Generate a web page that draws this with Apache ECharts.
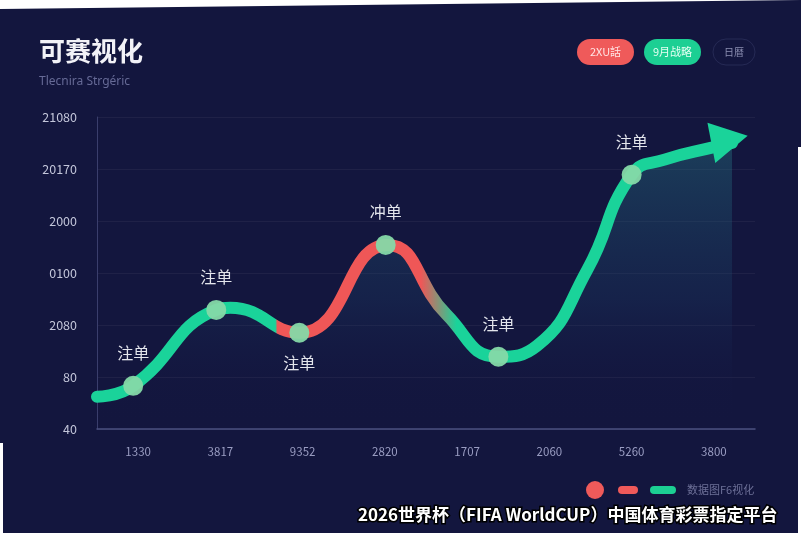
<!DOCTYPE html>
<html>
<head>
<meta charset="utf-8">
<script src="https://cdn.jsdelivr.net/npm/echarts@6/dist/echarts.min.js"></script>
<style>
html,body{margin:0;padding:0;background:#13163e;}
#chart{width:801px;height:536px;}
</style>
</head>
<body>
<div id="chart"></div>
<script>
// ---- data ----
const categories = ['1330', '3817', '9352', '2820', '1707', '2060', '5260', '3800'];
const yTickLabels = ['40', '80', '2080', '0100', '2000', '20170', '21080'];

// curve (x in category units, y in tick units)
const curveX = [-0.5, -0.06, 0.95, 1.12, 1.96, 3.03, 3.75, 4.38, 4.85, 5.46, 6.0, 6.4, 7.0, 7.22];
const curveY = [0.62, 0.83, 2.29, 2.33, 1.85, 3.54, 2.2, 1.39, 1.6, 3.06, 4.89, 5.18, 5.42, 5.5];

// highlighted points
const markerX = [-0.06, 0.95, 1.96, 3.01, 4.38, 6.00];
const markerY = [0.83, 2.29, 1.85, 3.54, 1.39, 4.89];
const markerLabels = ['注单', '注单', '注单', '冲单', '注单', '注单'];
const markerLabelSide = ['top', 'top', 'bottom', 'top', 'top', 'top'];

// arrow head at the end of the curve
const arrowX = [7.19];
const arrowY = [5.57];

const titleText = '可赛视化';
const subtitleText = 'Tlecnira Strgéric';
const pillTexts = ['2XU話', '9月战略', '日暦'];
const legendText = '数据图F6视化';
const footerText = '2026世界杯（FIFA WorldCUP）中国体育彩票指定平台';

// ---- chart ----
const GREEN = '#1ad39a';
const RED = '#ef5757';
const chart = echarts.init(document.getElementById('chart'), null, {renderer: 'canvas'});

const curveData = curveX.map((x, i) => [x, curveY[i]]);
const markerData = markerX.map((x, i) => ({
  value: [x, markerY[i]],
  name: markerLabels[i],
  label: {position: markerLabelSide[i], distance: markerLabelSide[i] === 'top' ? 15 : 12}
}));
const arrowData = arrowX.map((x, i) => [x, arrowY[i]]);

const option = {
  backgroundColor: '#13163e',
  animation: false,
  textStyle: {fontFamily: '"Noto Sans CJK SC", "Noto Sans", sans-serif'},
  grid: {left: 97, right: 46, top: 117, bottom: 107},
  xAxis: [
    {
      type: 'category',
      data: categories,
      boundaryGap: true,
      axisLine: {lineStyle: {color: '#4b5080', width: 1.5}},
      axisTick: {show: false},
      axisLabel: {color: '#9a9dc2', fontSize: 11.5, margin: 17},
      splitLine: {show: false}
    },
    {
      type: 'value',
      min: -0.5,
      max: 7.5,
      show: false
    }
  ],
  yAxis: {
    type: 'value',
    min: 0,
    max: 6,
    interval: 1,
    axisLine: {show: true, onZero: false, lineStyle: {color: '#3a3e6c', width: 1}},
    axisTick: {show: false},
    axisLabel: {
      color: '#c3c6da',
      fontSize: 12.5,
      margin: 20,
      formatter: v => yTickLabels[v] || ''
    },
    splitLine: {lineStyle: {color: 'rgba(255,255,255,0.05)'}}
  },
  series: [
    {
      type: 'line',
      xAxisIndex: 1,
      data: curveData,
      smooth: 0.5,
      showSymbol: false,
      z: 2,
      lineStyle: {
        width: 12,
        cap: 'round',
        color: new echarts.graphic.LinearGradient(0, 0, 1, 0, [
          {offset: 0, color: GREEN},
          {offset: 0.285, color: GREEN},
          {offset: 0.288, color: RED},
          {offset: 0.51, color: RED},
          {offset: 0.565, color: GREEN},
          {offset: 1, color: GREEN}
        ])
      },
      areaStyle: {
        color: new echarts.graphic.LinearGradient(0, 0, 0, 1, [
          {offset: 0, color: 'rgba(40,125,135,0.55)'},
          {offset: 0.55, color: 'rgba(30,70,110,0.35)'},
          {offset: 0.85, color: 'rgba(25,35,85,0.05)'},
          {offset: 1, color: 'rgba(20,25,70,0)'}
        ])
      }
    },
    {
      type: 'scatter',
      xAxisIndex: 1,
      data: markerData,
      symbol: 'circle',
      symbolSize: 20,
      z: 4,
      itemStyle: {color: '#85d9a8', opacity: 0.95},
      label: {
        show: true,
        formatter: p => p.name,
        color: '#eef0f6',
        fontSize: 16,
        fontFamily: '"Noto Sans CJK SC", sans-serif'
      }
    },
    {
      type: 'scatter',
      xAxisIndex: 1,
      data: arrowData,
      symbol: 'triangle',
      symbolSize: [41, 37],
      symbolRotate: -79,
      z: 3,
      itemStyle: {color: GREEN, opacity: 1}
    }
  ],
  graphic: [
    {type: 'text', left: 39, top: 38, style: {text: titleText, fill: '#f2f2f7', font: 'bold 26px "Noto Sans CJK SC", sans-serif'}},
    {type: 'text', left: 39, top: 76, style: {text: subtitleText, fill: '#666a96', font: '12px "Noto Sans", sans-serif'}},
    // pills
    {type: 'rect', shape: {x: 577, y: 39, width: 57, height: 26, r: 13}, style: {fill: '#ef5a5a'}},
    {type: 'text', x: 605.5, y: 52, style: {text: pillTexts[0], fill: '#ffe5e5', font: '11px "Noto Sans CJK SC", sans-serif', align: 'center', verticalAlign: 'middle'}},
    {type: 'rect', shape: {x: 644, y: 39, width: 57, height: 26, r: 13}, style: {fill: '#1ccf93'}},
    {type: 'text', x: 672.5, y: 52, style: {text: pillTexts[1], fill: '#e5fff3', font: '11px "Noto Sans CJK SC", sans-serif', align: 'center', verticalAlign: 'middle'}},
    {type: 'rect', shape: {x: 713, y: 39, width: 42, height: 26, r: 13}, style: {fill: '#13163e', stroke: '#262a55', lineWidth: 1}},
    {type: 'text', x: 734, y: 52, style: {text: pillTexts[2], fill: '#8c8fb2', font: '10px "Noto Sans CJK SC", sans-serif', align: 'center', verticalAlign: 'middle'}},
    // legend
    {type: 'circle', shape: {cx: 595, cy: 490, r: 9}, style: {fill: '#ef5a5a'}},
    {type: 'rect', shape: {x: 618, y: 486, width: 20, height: 8, r: 4}, style: {fill: '#ef5a5a'}},
    {type: 'rect', shape: {x: 650, y: 486, width: 26, height: 8, r: 4}, style: {fill: '#1ccf93'}},
    {type: 'text', x: 687, y: 490, style: {text: legendText, fill: '#6d7098', font: '11px "Noto Sans CJK SC", sans-serif', verticalAlign: 'middle'}},
    // footer caption
    {type: 'text', x: 358, y: 515, style: {text: footerText, fill: '#ffffff', stroke: '#000000', lineWidth: 3, font: 'bold 17px "Noto Sans CJK SC", sans-serif', verticalAlign: 'middle'}},
    // white photo edges
    {type: 'polygon', shape: {points: [[0, 0], [801, 0], [0, 9]]}, style: {fill: '#ffffff'}},
    {type: 'rect', shape: {x: 798, y: 147, width: 3, height: 389}, style: {fill: '#ffffff'}},
    {type: 'rect', shape: {x: 0, y: 443, width: 3, height: 93}, style: {fill: '#ffffff'}},
    {type: 'rect', shape: {x: 0, y: 533, width: 801, height: 3}, style: {fill: '#ffffff'}}
  ]
};
chart.setOption(option);
</script>
</body>
</html>
